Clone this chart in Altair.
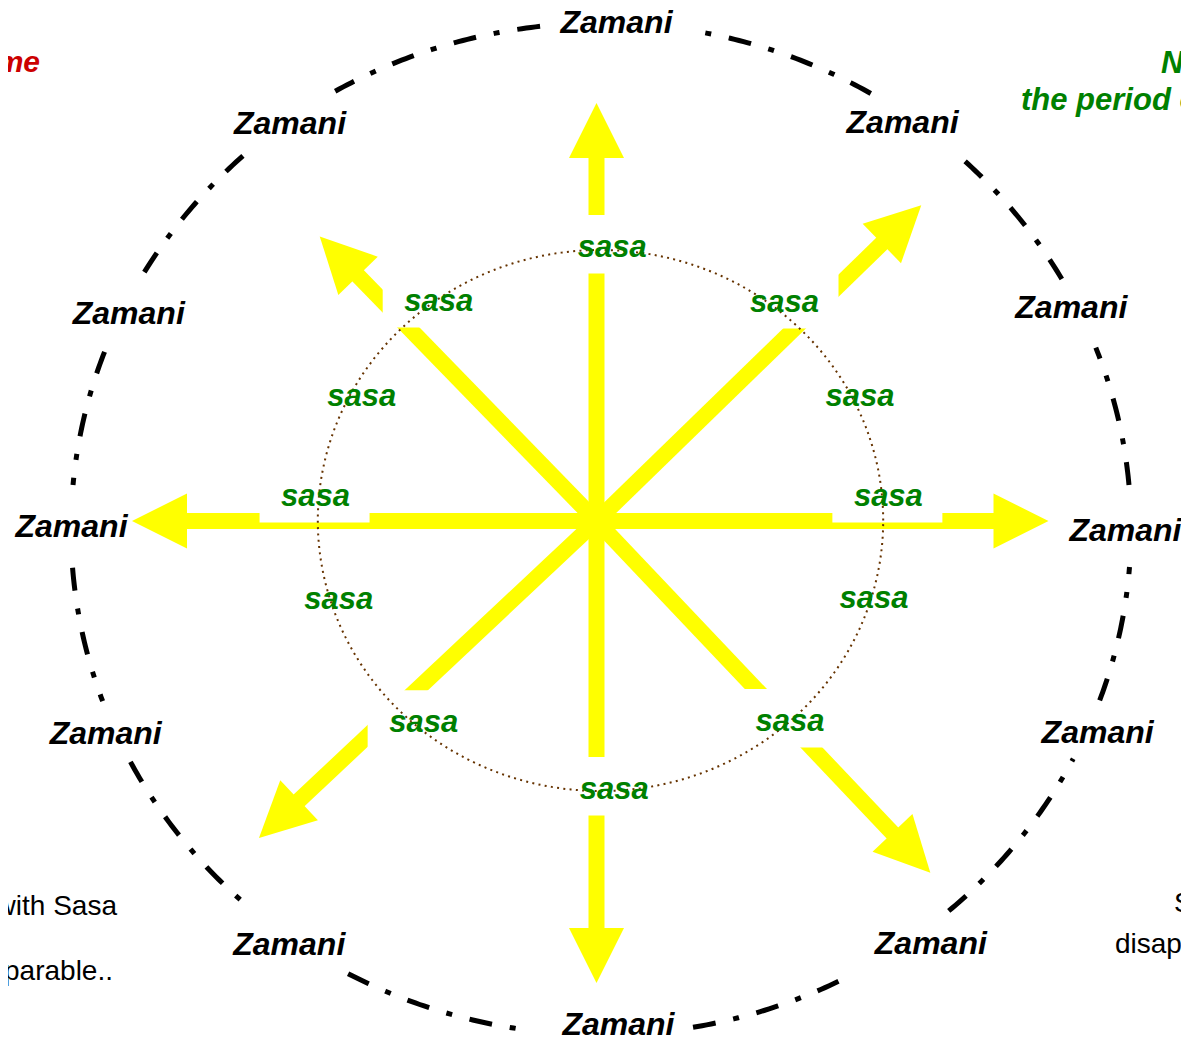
import altair as alt
import pandas as pd

# ---------------- data ----------------
# arrows radiating from the centre: direction (deg, counter-clockwise from east) and length
arrow_dirs = ["N", "NE", "E", "SE", "S", "SW", "W", "NW"]
arrow_angles = [90, 44.2, 0, 313.5, 270, 223.2, 180, 134.2]
arrow_lengths = [418, 453, 452, 485, 462, 463, 464.5, 397]

# outer "Zamani" ring labels: polar position around the centre
zamani_labels = ["Zamani"] * 12
zamani_angles = [87.7, 52.5, 24.3, -1.0, -22.8, -51.6, -87.5, -126.0, -156.6, 180.5, 156.0, 127.6]
zamani_radii = [499.4, 502.8, 521, 529, 543.6, 538.2, 503.5, 522.7, 534.8, 525, 512, 502.3]

# inner "sasa" ring labels
sasa_labels = ["sasa"] * 12
sasa_angles = [86.7, 49.3, 25.3, 4.8, -15.6, -46.0, -86.2, -130.6, -163.1, 175.0, 152.0, 125.7]
sasa_radii = [274, 288.3, 291.4, 292.9, 288.1, 278.6, 269.1, 265.6, 269.5, 282, 265.9, 270.4]

# visible arcs of the dash-dot outer ring (start / end angle, deg)
ring_starts = [5, 29.6, 59.4, 96.6, 132.5, 159.5, 184.4, 207.4, 241.5, 280, 311, 340.2]
ring_ends = [21, 47.4, 79.2, 120, 149.5, 175, 199.8, 229, 262.5, 298.5, 332.8, 355.6]

# side notes (partly outside the picture)
red_note = ["Zamani = Macro Time"]
green_note = ["Now period \u2013", "the period of immediate concern"]
left_note = ["Zamani overlaps with Sasa", "and the two are inseparable.."]
right_note = ["Sasa eventually", "disappears into Zamani"]

# ---------------- layout constants ----------------
X0, Y0 = 596.5, 521.0          # centre of the star (page pixels)
W, H = 1173, 1029              # fits inside the window together with the 8px page margin
YELLOW = "#ffff00"
GREEN = "#008000"
FONT = "Liberation Sans"
HEAD = 55

xs = alt.Scale(domain=[8 - X0, 8 + W - X0], nice=False, zero=False)
ys = alt.Scale(domain=[Y0 - 8 - H, Y0 - 8], nice=False, zero=False)


def X(f):
    return alt.X(f, type="quantitative", scale=xs, axis=None)


def Y(f):
    return alt.Y(f, type="quantitative", scale=ys, axis=None)


arrows = pd.DataFrame({"dir": arrow_dirs, "theta": arrow_angles, "len": arrow_lengths})
zam = pd.DataFrame({"label": zamani_labels, "theta": zamani_angles, "r": zamani_radii})
sas = pd.DataFrame({"label": sasa_labels, "theta": sasa_angles, "r": sasa_radii})
ring = pd.DataFrame({"seg": list(range(len(ring_starts))), "t0": ring_starts, "t1": ring_ends})

shafts = alt.Chart(arrows).transform_calculate(
    x0="0", y0="0",
    x1=f"(datum.len - {HEAD * 0.8})*cos(datum.theta*PI/180)",
    y1=f"(datum.len - {HEAD * 0.8})*sin(datum.theta*PI/180)",
).mark_rule(color=YELLOW, strokeWidth=16, strokeCap="butt").encode(
    x=X("x0"), y=Y("y0"), x2="x1:Q", y2="y1:Q"
)

heads = alt.Chart(arrows).transform_calculate(
    hx=f"(datum.len - {HEAD / 2})*cos(datum.theta*PI/180)",
    hy=f"(datum.len - {HEAD / 2})*sin(datum.theta*PI/180)",
    rot="(450 - datum.theta) % 360",
).mark_point(
    shape="M0,-1L1,1L-1,1Z", size=HEAD * HEAD, filled=True, color=YELLOW,
    opacity=1, strokeWidth=0
).encode(x=X("hx"), y=Y("hy"), angle=alt.Angle("rot:Q", scale=None))

sasa_pos = alt.Chart(sas).transform_calculate(
    cx="datum.r*cos(datum.theta*PI/180)",
    cy="datum.r*sin(datum.theta*PI/180)",
)

boxes = sasa_pos.transform_calculate(
    bx1="datum.cx - 56", bx2="datum.cx + 54",
    by1="datum.cy - 26", by2="datum.cy + 32.5",
).mark_rect(color="white").encode(x=X("bx1"), x2="bx2:Q", y=Y("by1"), y2="by2:Q")

inner = alt.Chart(pd.DataFrame({"ring": ["inner"]})).transform_calculate(
    t="sequence(0, 361, 1)"
).transform_flatten(["t"]).transform_calculate(
    px="4 + 282.7*cos(datum.t*PI/180)",
    py="0.5 + 270.5*sin(datum.t*PI/180)",
).mark_line(color="#663300", strokeWidth=2, strokeDash=[2, 4.3], strokeCap="butt").encode(
    x=X("px"), y=Y("py"), order="t:Q"
)

outer = alt.Chart(ring).transform_calculate(
    t="sequence(datum.t0, datum.t1 + 0.25, 0.5)"
).transform_flatten(["t"]).transform_calculate(
    px="4.5 + 530*cos(datum.t*PI/180)",
    py="-8 + 506*sin(datum.t*PI/180)",
).mark_line(color="black", strokeWidth=5, strokeDash=[23, 18, 6, 18], strokeCap="butt").encode(
    x=X("px"), y=Y("py"), detail="seg:N", order="t:Q"
)

zam_text = alt.Chart(zam).transform_calculate(
    cx="datum.r*cos(datum.theta*PI/180)",
    cy="datum.r*sin(datum.theta*PI/180)",
).mark_text(
    font=FONT, fontSize=32, fontStyle="italic", fontWeight="bold", color="black",
    align="center", baseline="alphabetic", dy=11
).encode(x=X("cx"), y=Y("cy"), text="label:N")

sasa_text = sasa_pos.mark_text(
    font=FONT, fontSize=31, fontStyle="italic", fontWeight="bold", color=GREEN,
    align="center", baseline="alphabetic", dy=9.5
).encode(x=X("cx"), y=Y("cy"), text="label:N")


def note(lines, px, py, **kw):
    df = pd.DataFrame({"text": lines, "px": [p - X0 for p in px], "py": [Y0 - p for p in py]})
    return alt.Chart(df).mark_text(font=FONT, baseline="alphabetic", **kw).encode(
        x=X("px"), y=Y("py"), text="text:N"
    )


red = note(red_note, [40], [72], fontSize=30, fontStyle="italic", fontWeight="bold",
           color="#cc0000", align="right")
green = note(green_note, [1161, 1021], [73, 110], fontSize=31, fontStyle="italic",
             fontWeight="bold", color=GREEN, align="left")
left = note(left_note, [117, 113], [915, 980], fontSize=28, color="black", align="right")
right = note(right_note, [1174, 1115], [912, 953], fontSize=28, color="black", align="left")

chart = alt.layer(
    shafts, heads, boxes, inner, outer, zam_text, sasa_text, red, green, left, right
).properties(
    width=W, height=H, padding=0, background="white",
    autosize=alt.AutoSizeParams(type="none"),
).configure_view(stroke=None)

chart.save("out.html", embed_options={"renderer": "svg", "actions": False})
